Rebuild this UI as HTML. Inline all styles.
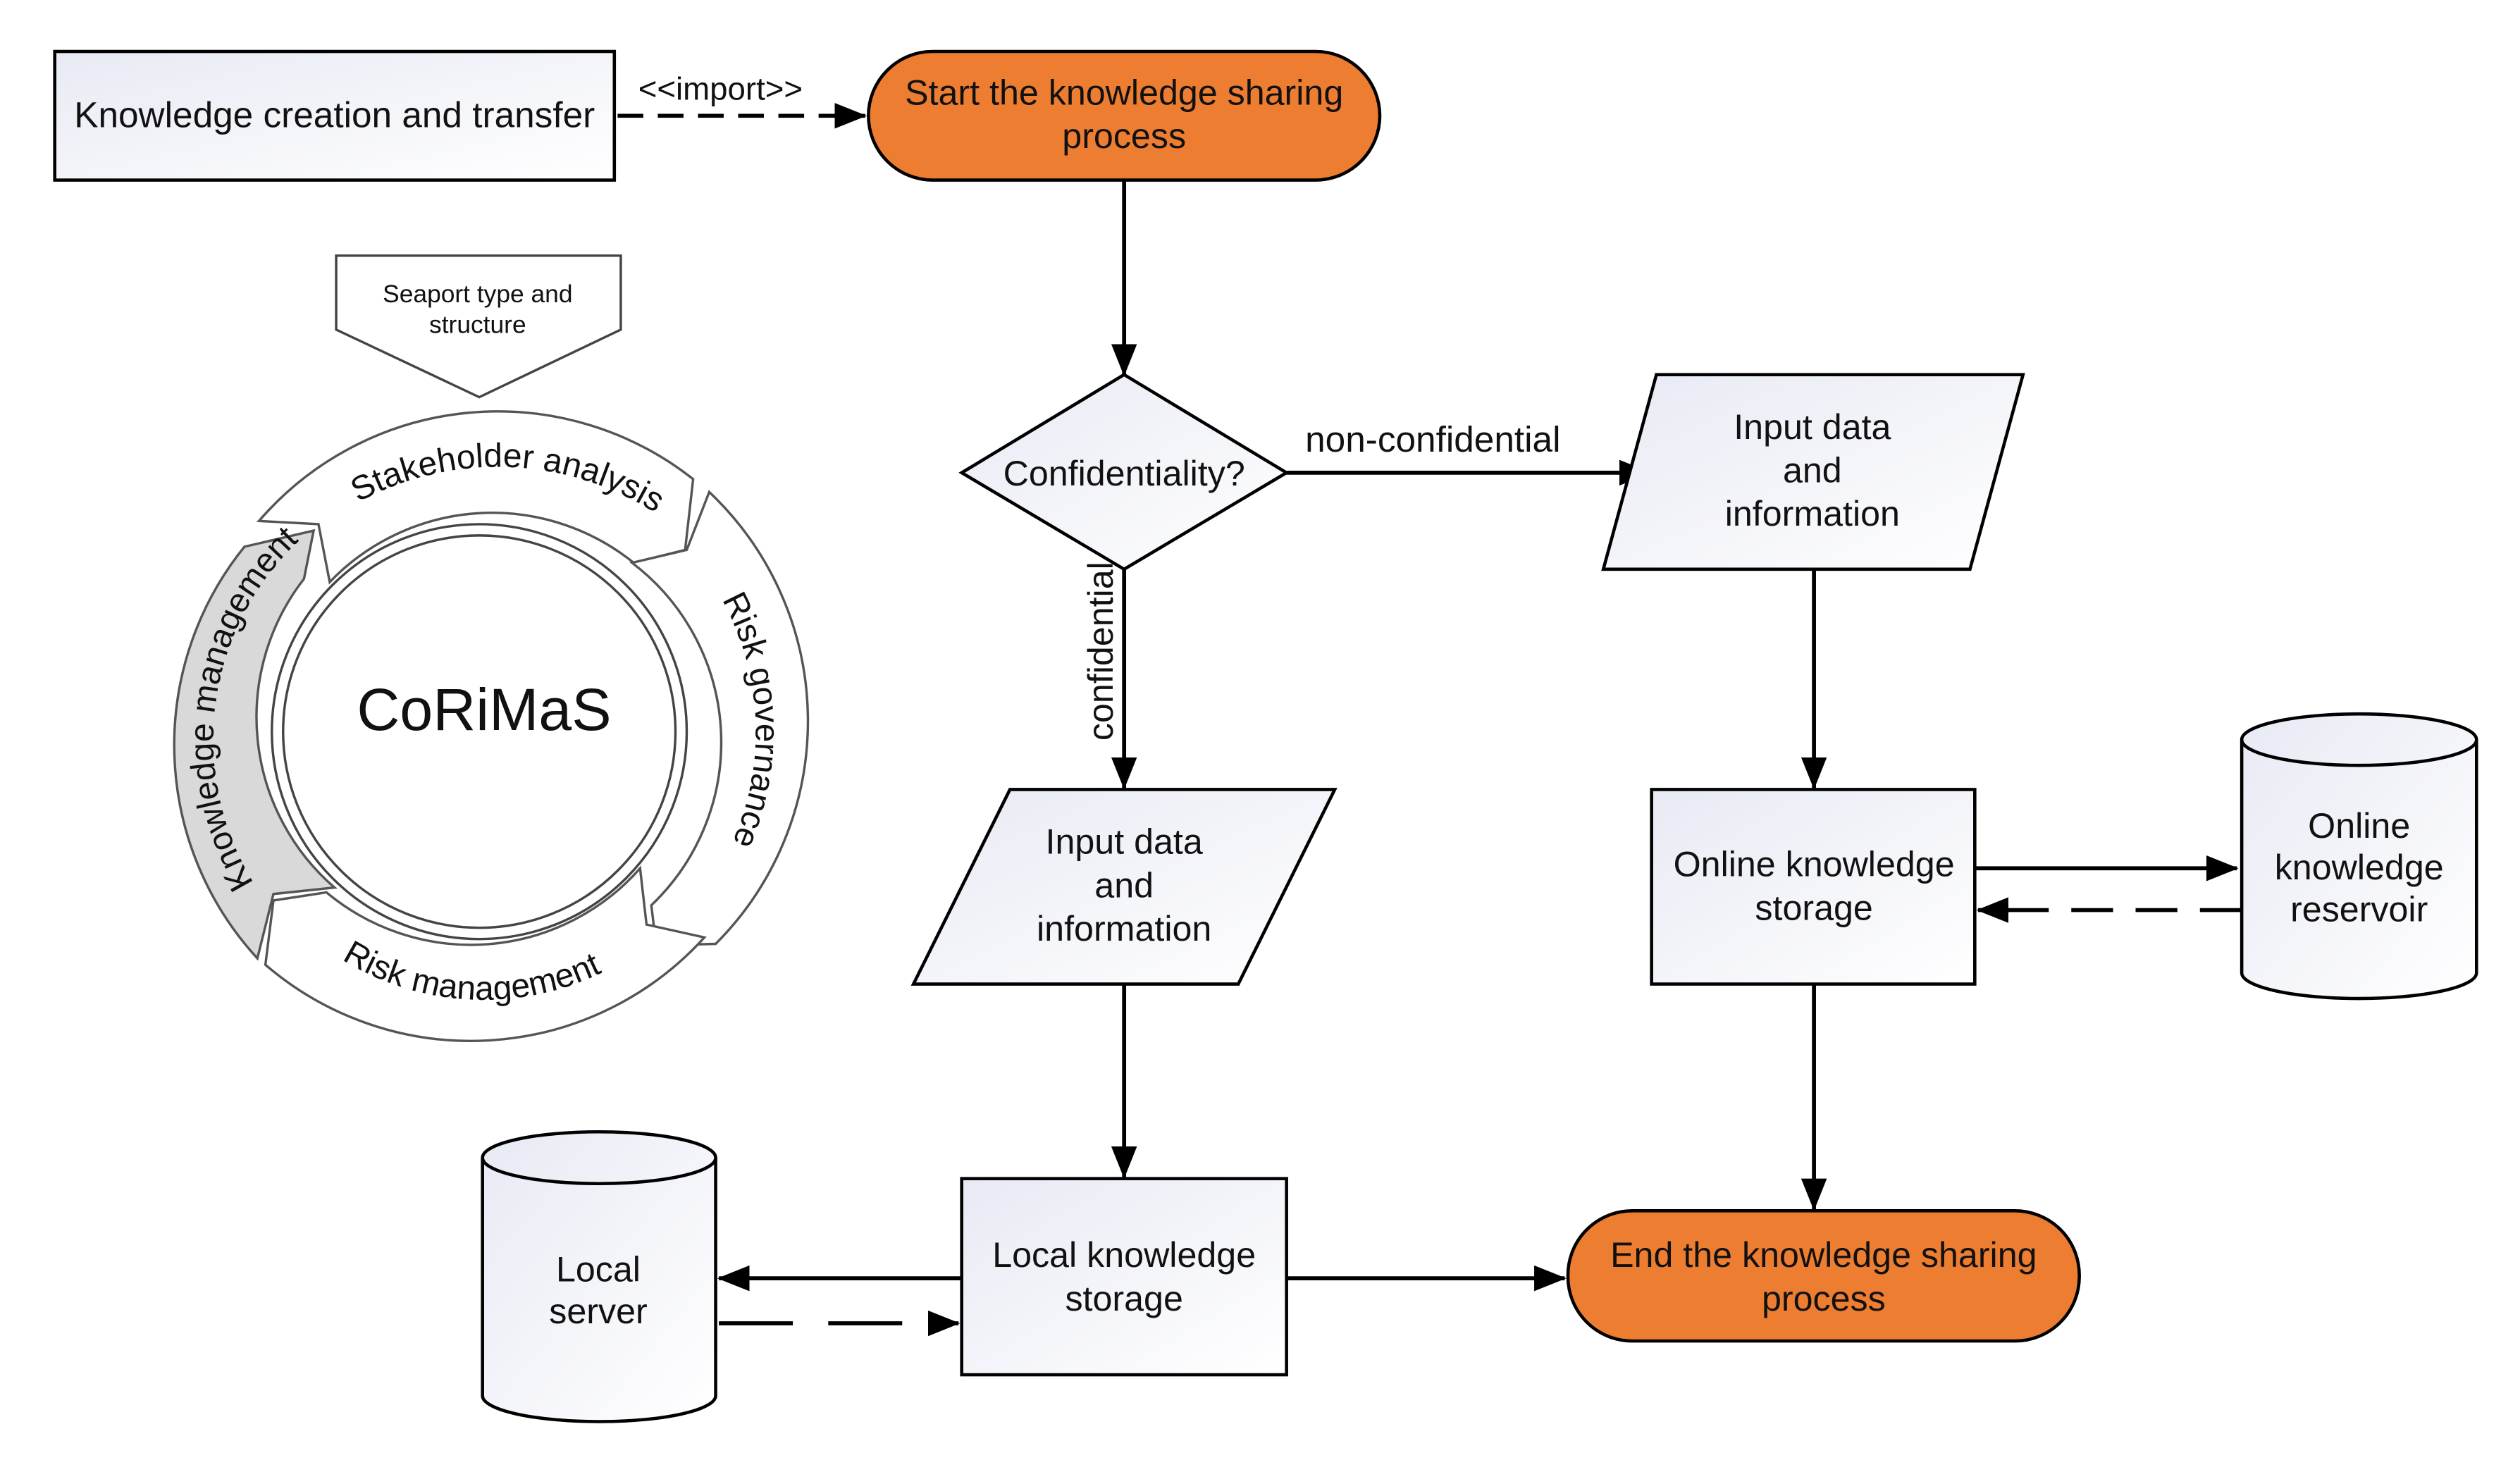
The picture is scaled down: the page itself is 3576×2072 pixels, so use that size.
<!DOCTYPE html>
<html><head><meta charset="utf-8"><style>
html,body{margin:0;padding:0;background:#fff;}
svg{display:block;}
text{font-family:"Liberation Sans",Arial,sans-serif;fill:#111;}
</style></head><body>
<svg width="3576" height="2072" viewBox="0 0 1567 908" xmlns="http://www.w3.org/2000/svg">
<defs>
<linearGradient id="g" x1="0" y1="0" x2="1" y2="1"><stop offset="0" stop-color="#e8eaf4"/><stop offset="1" stop-color="#ffffff"/></linearGradient>
<marker id="b" markerWidth="20" markerHeight="20" refX="19" refY="10" orient="auto" markerUnits="userSpaceOnUse" viewBox="0 0 20 20"><path d="M0,2 L20,10 L0,18 z" fill="#000"/></marker>
<path id="p1" d="M 218,315 A 182,182 0 0 1 412,322"/>
<path id="p2" d="M 446,368 A 170,170 0 0 1 453,529"/>
<path id="p3" d="M 213,597 A 168,168 0 0 0 374,605"/>
<path id="p4" d="M 163,557 A 170,170 0 0 1 193,330"/>
</defs>

<rect x="34" y="32" width="348" height="80" fill="url(#g)" stroke="#000" stroke-width="2"/>
<text x="208" y="79" font-size="22.5" text-anchor="middle">Knowledge creation and transfer</text>
<text x="448" y="62" font-size="20" text-anchor="middle">&lt;&lt;import&gt;&gt;</text>
<line x1="384" y1="72" x2="538" y2="72" stroke="#000" stroke-width="2.5" stroke-dasharray="16,9" marker-end="url(#b)"/>

<rect x="540" y="32" width="318" height="80" rx="40" fill="#ed7d31" stroke="#000" stroke-width="2"/>
<text x="699" y="65" font-size="22" text-anchor="middle">Start the knowledge sharing</text>
<text x="699" y="92" font-size="22" text-anchor="middle">process</text>
<line x1="699" y1="112" x2="699" y2="233" stroke="#000" stroke-width="2.5" marker-end="url(#b)"/>

<polygon points="699,233 800,294 699,354 598,294" fill="url(#g)" stroke="#000" stroke-width="2"/>
<text x="699" y="302" font-size="22" text-anchor="middle">Confidentiality?</text>
<text x="891" y="281" font-size="22.5" text-anchor="middle">non-confidential</text>
<line x1="800" y1="294" x2="1026" y2="294" stroke="#000" stroke-width="2.5" marker-end="url(#b)"/>
<text transform="translate(692,405) rotate(-90)" font-size="22" text-anchor="middle">confidential</text>
<line x1="699" y1="354" x2="699" y2="490" stroke="#000" stroke-width="2.5" marker-end="url(#b)"/>

<polygon points="1030,233 1258,233 1225,354 997,354" fill="url(#g)" stroke="#000" stroke-width="2"/>
<text x="1127" y="273" font-size="22" text-anchor="middle">Input data</text>
<text x="1127" y="300" font-size="22" text-anchor="middle">and</text>
<text x="1127" y="327" font-size="22" text-anchor="middle">information</text>
<line x1="1128" y1="354" x2="1128" y2="490" stroke="#000" stroke-width="2.5" marker-end="url(#b)"/>

<rect x="1027" y="491" width="201" height="121" fill="url(#g)" stroke="#000" stroke-width="2"/>
<text x="1128" y="545" font-size="22" text-anchor="middle">Online knowledge</text>
<text x="1128" y="572" font-size="22" text-anchor="middle">storage</text>
<line x1="1228" y1="540" x2="1391" y2="540" stroke="#000" stroke-width="2.5" marker-end="url(#b)"/>
<line x1="1394" y1="566" x2="1230" y2="566" stroke="#000" stroke-width="2.5" stroke-dasharray="26,14" marker-end="url(#b)"/>
<line x1="1128" y1="612" x2="1128" y2="752" stroke="#000" stroke-width="2.5" marker-end="url(#b)"/>

<path d="M1394,460 L1394,605 A73,16 0 0 0 1540,605 L1540,460 A73,16 0 0 0 1394,460 Z" fill="url(#g)" stroke="#000" stroke-width="2"/>
<path d="M1394,460 A73,16 0 0 0 1540,460" fill="none" stroke="#000" stroke-width="2"/>
<text x="1467" y="521" font-size="22" text-anchor="middle">Online</text>
<text x="1467" y="547" font-size="22" text-anchor="middle">knowledge</text>
<text x="1467" y="573" font-size="22" text-anchor="middle">reservoir</text>

<rect x="975" y="753" width="318" height="81" rx="40" fill="#ed7d31" stroke="#000" stroke-width="2"/>
<text x="1134" y="788" font-size="22" text-anchor="middle">End the knowledge sharing</text>
<text x="1134" y="815" font-size="22" text-anchor="middle">process</text>

<polygon points="628,491 830,491 770,612 568,612" fill="url(#g)" stroke="#000" stroke-width="2"/>
<text x="699" y="531" font-size="22" text-anchor="middle">Input data</text>
<text x="699" y="558" font-size="22" text-anchor="middle">and</text>
<text x="699" y="585" font-size="22" text-anchor="middle">information</text>
<line x1="699" y1="612" x2="699" y2="732" stroke="#000" stroke-width="2.5" marker-end="url(#b)"/>

<rect x="598" y="733" width="202" height="122" fill="url(#g)" stroke="#000" stroke-width="2"/>
<text x="699" y="788" font-size="22" text-anchor="middle">Local knowledge</text>
<text x="699" y="815" font-size="22" text-anchor="middle">storage</text>
<line x1="800" y1="795" x2="973" y2="795" stroke="#000" stroke-width="2.5" marker-end="url(#b)"/>
<line x1="598" y1="795" x2="447" y2="795" stroke="#000" stroke-width="2.5" marker-end="url(#b)"/>
<line x1="447" y1="823" x2="596" y2="823" stroke="#000" stroke-width="2.5" stroke-dasharray="46,22" marker-end="url(#b)"/>

<path d="M300,720 L300,868 A72,16 0 0 0 445,868 L445,720 A72,16 0 0 0 300,720 Z" fill="url(#g)" stroke="#000" stroke-width="2"/>
<path d="M300,720 A72,16 0 0 0 445,720" fill="none" stroke="#000" stroke-width="2"/>
<text x="372" y="797" font-size="22" text-anchor="middle">Local</text>
<text x="372" y="823" font-size="22" text-anchor="middle">server</text>

<polygon points="209,159 386,159 386,205 298,247 209,205" fill="#fff" stroke="#444" stroke-width="1.5"/>
<text x="297" y="188" font-size="15.5" text-anchor="middle">Seaport type and</text>
<text x="297" y="207" font-size="15.5" text-anchor="middle">structure</text>

<g stroke="#555" stroke-width="1.5">
<path d="M161,324 A196,196 0 0 1 431,298 L426,342 L394,350 A140,140 0 0 0 205,362 L198,326 Z" fill="#fff"/>
<path d="M441,306 A196,196 0 0 1 445,587 L408,588 L405,563 A140,140 0 0 0 393,350 L427,342 Z" fill="#fff"/>
<path d="M438,583 A196,196 0 0 1 165,600 L170,560 L203,555 A140,140 0 0 0 398,540 L402,575 Z" fill="#fff"/>
<path d="M160,596 A196,196 0 0 1 152,340 L195,330 L189,360 A140,140 0 0 0 208,552 L170,556 Z" fill="#d9d9d9"/>
</g>
<circle cx="298" cy="455" r="129" fill="#fff" stroke="#444" stroke-width="1.5"/>
<circle cx="298" cy="455" r="122" fill="#fff" stroke="#444" stroke-width="1.5"/>
<text x="301" y="454" font-size="37" text-anchor="middle">CoRiMaS</text>
<text font-size="21"><textPath href="#p1" startOffset="50%" text-anchor="middle">Stakeholder analysis</textPath></text>
<text font-size="21"><textPath href="#p2" startOffset="50%" text-anchor="middle">Risk governance</textPath></text>
<text font-size="21"><textPath href="#p3" startOffset="50%" text-anchor="middle">Risk management</textPath></text>
<text font-size="21"><textPath href="#p4" startOffset="50%" text-anchor="middle">Knowledge management</textPath></text>
</svg>
</body></html>
